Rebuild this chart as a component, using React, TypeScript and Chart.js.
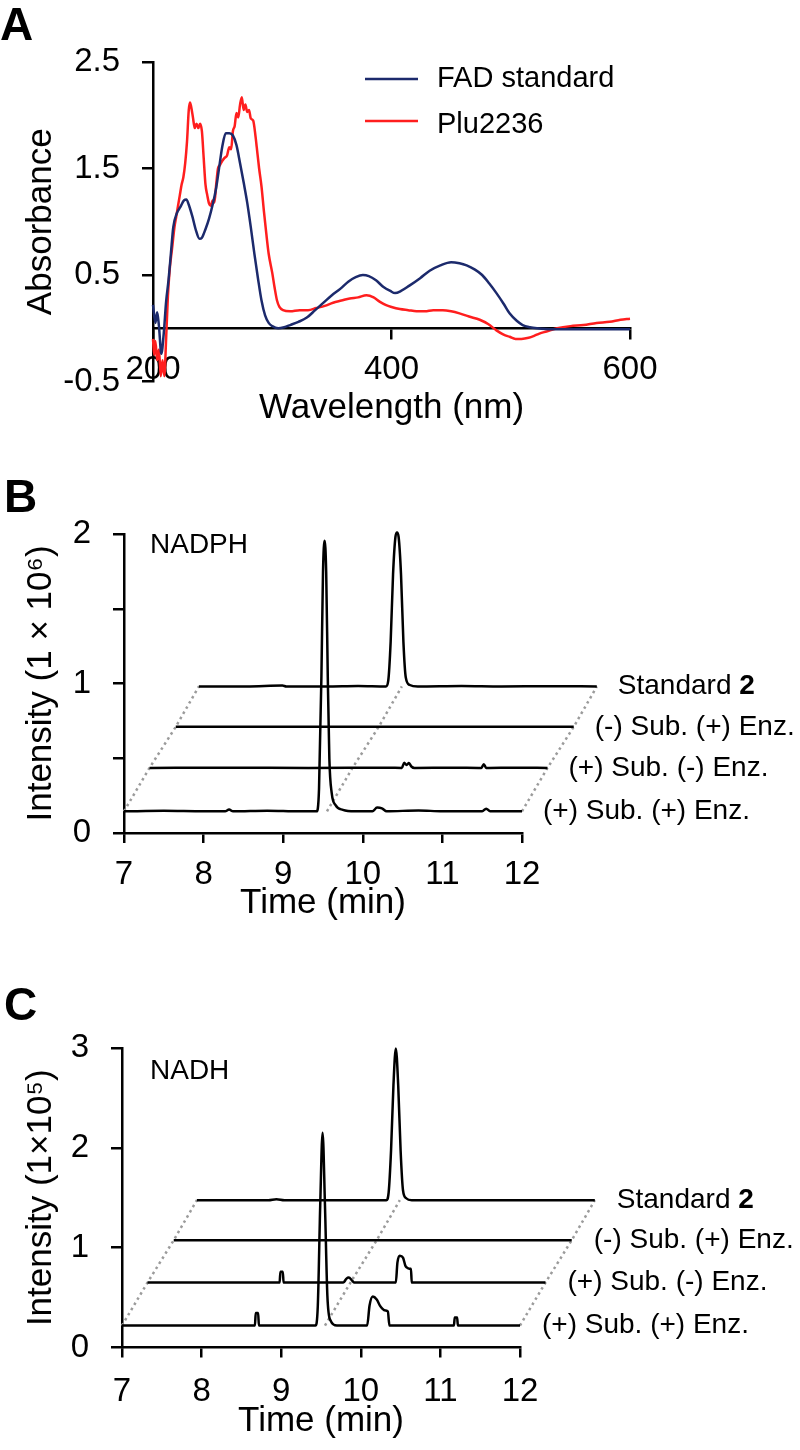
import React, { useEffect, useRef } from 'react';
import { Chart, registerables } from 'chart.js';

Chart.register(...registerables);

const FONT = "'Liberation Sans', Arial, Helvetica, sans-serif";

// ---------------- Panel A : UV-Vis spectra ----------------
const seriesNamesA = ['FAD standard', 'Plu2236'];
const seriesColorsA = ['#1c2a6c', '#ff1e1e'];

const fadWavelength = [200, 202, 203.5, 205, 207, 209, 211, 213, 215, 217, 220, 223, 226, 228, 230, 233, 236, 239, 241, 244, 247, 250, 253, 256, 258, 261, 264, 267, 270, 273, 276, 279, 282, 285, 288, 291, 294, 297, 300, 305, 310, 315, 322, 329, 336, 343, 350, 357, 364, 370, 376, 381, 387, 393, 399, 403, 408, 415, 424, 432, 441, 450, 457, 463, 470, 476, 482, 488, 494, 499, 505, 510, 516, 522, 535, 560, 580, 600];
const fadAbsorbance = [0.22, 0.05, 0.15, 0.02, -0.24, -0.05, 0.25, 0.45, 0.7, 0.95, 1.08, 1.14, 1.2, 1.21, 1.16, 1.05, 0.92, 0.84, 0.85, 0.93, 1.03, 1.16, 1.32, 1.55, 1.7, 1.83, 1.83, 1.81, 1.72, 1.55, 1.37, 1.18, 0.95, 0.7, 0.47, 0.26, 0.12, 0.05, 0.02, 0.0, 0.01, 0.03, 0.06, 0.1, 0.17, 0.24, 0.31, 0.37, 0.44, 0.48, 0.5, 0.49, 0.45, 0.39, 0.35, 0.33, 0.35, 0.4, 0.47, 0.54, 0.59, 0.62, 0.61, 0.59, 0.55, 0.5, 0.42, 0.33, 0.23, 0.14, 0.07, 0.03, 0.01, 0.0, -0.01, -0.01, -0.01, -0.01];

const pluWavelength = [200, 201, 202, 203.5, 205, 206.5, 208, 209.5, 211, 212.5, 214, 216, 218, 219.5, 221, 222.5, 224, 225.5, 227, 228.5, 230, 231, 232, 233.5, 235, 236.5, 238, 239.5, 241, 242.5, 244, 245.5, 247, 248.5, 250, 251.5, 253, 254.5, 256, 258, 260, 262, 264, 265.5, 267, 268.5, 270, 271.5, 273, 274.5, 276, 277.5, 279, 280.5, 282, 284, 286, 287, 289, 291, 293, 295, 297, 300, 302, 304, 306, 309, 315, 323, 330, 337, 344, 351, 358, 365, 372, 379, 385, 390, 395, 400, 407, 414, 421, 428, 435, 443, 450, 457, 465, 474, 481, 488, 494, 499, 504, 509, 515, 520, 524, 530, 539, 550, 561, 572, 583, 592, 600];
const pluAbsorbance = [-0.1, -0.25, -0.12, -0.3, -0.2, -0.45, -0.3, -0.45, -0.1, 0.3, 0.55, 0.75, 0.95, 1.05, 1.15, 1.25, 1.35, 1.42, 1.55, 1.75, 2.05, 2.12, 2.08, 1.98, 1.88, 1.92, 1.88, 1.92, 1.85, 1.6, 1.35, 1.25, 1.17, 1.15, 1.2, 1.18, 1.35, 1.5, 1.53, 1.57, 1.6, 1.62, 1.7, 1.68, 1.85, 1.9, 2.02, 1.98, 2.1, 2.17, 2.05, 2.1, 2.03, 2.05, 1.97, 1.95, 1.8, 1.7, 1.5, 1.33, 1.1, 0.89, 0.7, 0.52, 0.38, 0.26, 0.2, 0.17, 0.16, 0.17, 0.17, 0.19, 0.21, 0.24, 0.26, 0.28, 0.29, 0.31, 0.29, 0.25, 0.22, 0.2, 0.18, 0.17, 0.16, 0.16, 0.17, 0.17, 0.16, 0.14, 0.11, 0.08, 0.04, -0.02, -0.06, -0.08, -0.1, -0.1, -0.09, -0.07, -0.05, -0.03, 0.0, 0.02, 0.03, 0.05, 0.06, 0.08, 0.09];

const absorbanceTicks = [-0.5, 0.5, 1.5, 2.5];
const wavelengthTicks = [200, 400, 600];

// ---------------- Panels B & C : LC-MS traces ----------------
// order of traces from back (top) to front (bottom)
const traceNames = ['Standard ', '(-) Sub. (+) Enz.', '(+) Sub. (-) Enz.', '(+) Sub. (+) Enz.'];
const standardCompound = '2';
const traceTimeShift = [0.94, 0.65, 0.32, 0];
const timeTicks = [7, 8, 9, 10, 11, 12];
const guideTimes = [7, 9.55, 12];

// NADPH (panel B), intensity in 1e6
const nadphBaseline = [0.98, 0.71, 0.435, 0.145];
const nadphTicks = [0, 0.5, 1, 1.5, 2];
const nadphStdTime = [7.0, 7.6, 8.05, 8.1, 8.6, 9.0, 9.35, 9.38, 9.41, 9.44, 9.47, 9.49, 9.51, 9.54, 9.57, 9.6, 9.65, 9.75, 10.3, 10.8, 11.4, 12.0];
const nadphStdInt = [0, 0, 0.006, 0, 0, 0.003, 0, 0.04, 0.3, 0.75, 1.0, 1.03, 1.0, 0.75, 0.3, 0.06, 0.01, 0, 0.003, 0, 0.002, 0];
const nadphNoSubTime = [7.0, 12.0];
const nadphNoSubInt = [0, 0];
const nadphNoEnzTime = [7.0, 8.0, 9.0, 10.0, 10.17, 10.2, 10.23, 10.26, 10.29, 10.33, 10.8, 11.17, 11.2, 11.23, 11.6, 12.0];
const nadphNoEnzInt = [0, 0.002, 0, 0.002, 0, 0.035, 0.02, 0.033, 0.01, 0, 0.002, 0, 0.025, 0, 0.002, 0];
const nadphFullTime = [7.0, 7.5, 8.0, 8.27, 8.32, 8.37, 8.8, 9.2, 9.42, 9.45, 9.48, 9.5, 9.52, 9.54, 9.56, 9.58, 9.61, 9.66, 9.75, 9.9, 10.12, 10.18, 10.24, 10.3, 10.7, 11.0, 11.5, 11.55, 11.6, 12.0];
const nadphFullInt = [0, 0.003, 0, 0, 0.012, 0, 0.004, 0, 0, 0.15, 0.9, 1.6, 1.81, 1.6, 0.9, 0.35, 0.12, 0.04, 0.01, 0, 0, 0.025, 0.02, 0, 0.006, 0, 0, 0.018, 0, 0];

// NADH (panel C), intensity in 1e5
const nadhBaseline = [1.475, 1.075, 0.65, 0.22];
const nadhTicks = [0, 1, 2, 3];
const nadhStdTime = [7.0, 7.9, 8.0, 8.1, 9.38, 9.41, 9.44, 9.47, 9.5, 9.53, 9.56, 9.59, 9.63, 9.7, 12.0];
const nadhStdInt = [0, 0, 0.01, 0, 0, 0.08, 0.5, 1.15, 1.52, 1.15, 0.5, 0.1, 0.02, 0, 0];
const nadhNoSubTime = [7.0, 12.0];
const nadhNoSubInt = [0, 0];
const nadhNoEnzTime = [7.0, 8.66, 8.67, 8.7, 8.71, 9.46, 9.5, 9.53, 9.57, 9.6, 10.12, 10.14, 10.17, 10.21, 10.24, 10.26, 10.29, 10.31, 10.32, 12.0];
const nadhNoEnzInt = [0, 0, 0.11, 0.11, 0, 0, 0.04, 0.05, 0.02, 0, 0, 0.2, 0.27, 0.25, 0.17, 0.15, 0.14, 0.14, 0, 0];
const nadhFullTime = [7.0, 8.67, 8.68, 8.71, 8.72, 9.43, 9.46, 9.49, 9.52, 9.55, 9.58, 9.62, 9.7, 10.08, 10.11, 10.15, 10.2, 10.24, 10.27, 10.31, 10.34, 10.36, 11.17, 11.18, 11.21, 11.22, 12.0];
const nadhFullInt = [0, 0, 0.125, 0.125, 0, 0, 0.2, 1.2, 1.93, 1.2, 0.3, 0.05, 0, 0, 0.2, 0.29, 0.26, 0.2, 0.17, 0.15, 0.14, 0, 0, 0.08, 0.08, 0, 0];

// ---------------- helpers ----------------
const black = '#000';
const TICK_SIZE = 33;
const TITLE_SIZE = 35;

function axisStyle(tickLength: number) {
  return {
    grid: { display: true, drawOnChartArea: false, drawTicks: true, tickLength, color: black, tickColor: black, tickWidth: 2.5, lineWidth: 2.5 },
    border: { display: true, color: black, width: 2.5 },
  };
}

function traceDatasets(times: number[][], ints: number[][], base: number[]) {
  const traces = times.map((t, i) => ({
    data: t.map((x, j) => ({ x: x + traceTimeShift[i], y: ints[i][j] + base[i] })),
    borderColor: black,
    borderWidth: 2.5,
    pointRadius: 0,
    cubicInterpolationMode: 'monotone',
    clip: false,
    order: 0,
  }));
  const guides = guideTimes.map((g) => ({
    data: base.map((b, i) => ({ x: g + traceTimeShift[i], y: b })).reverse(),
    borderColor: '#9b9b9b',
    borderWidth: 2.5,
    borderDash: [2.5, 3.5],
    pointRadius: 0,
    clip: false,
    order: 5,
  }));
  return [...traces, ...guides];
}

function chromAnnotations(id: string, letter: string, letterY: number, compound: string, compoundY: number, base: number[], gap: number) {
  return {
    id,
    afterDraw(chart: any) {
      const { ctx, scales } = chart;
      const xs = scales.x;
      const ys = scales.y;
      ctx.save();
      ctx.fillStyle = black;
      ctx.textAlign = 'left';
      ctx.textBaseline = 'alphabetic';
      ctx.font = `bold 46px ${FONT}`;
      ctx.fillText(letter, 4, letterY);
      ctx.textBaseline = 'middle';
      ctx.font = `28px ${FONT}`;
      ctx.fillText(compound, 150, compoundY);
      traceNames.forEach((name, i) => {
        const px = xs.getPixelForValue(timeTicks[timeTicks.length - 1] + traceTimeShift[i]) + gap;
        const py = ys.getPixelForValue(base[i]);
        ctx.font = `28px ${FONT}`;
        ctx.fillText(name, px, py);
        if (i === 0) {
          const w = ctx.measureText(name).width;
          ctx.font = `bold 28px ${FONT}`;
          ctx.fillText(standardCompound, px + w, py);
        }
      });
      ctx.restore();
    },
  };
}

const legendA = {
  id: 'legendA',
  afterDraw(chart: any) {
    const { ctx } = chart;
    ctx.save();
    ctx.fillStyle = black;
    ctx.font = `bold 46px ${FONT}`;
    ctx.textBaseline = 'alphabetic';
    ctx.textAlign = 'left';
    ctx.fillText('A', 0, 40);
    const lineY = [79, 121];
    const textY = [79, 125];
    seriesNamesA.forEach((name, i) => {
      ctx.strokeStyle = seriesColorsA[i];
      ctx.lineWidth = 2.5;
      ctx.beginPath();
      ctx.moveTo(365, lineY[i]);
      ctx.lineTo(418, lineY[i]);
      ctx.stroke();
      ctx.font = `29px ${FONT}`;
      ctx.textBaseline = 'middle';
      ctx.fillStyle = black;
      ctx.fillText(name, 437, textY[i]);
    });
    ctx.restore();
  },
};

function chromConfig(opts: {
  datasets: any[]; yMax: number; yTicks: number[]; yTitle: string; leftW: number; bottomH: number;
  padTop: number; padRight: number; tickPad: number; titlePad: number; plugin: any;
}) {
  return {
    type: 'line',
    data: { datasets: opts.datasets },
    options: {
      animation: false,
      responsive: false,
      devicePixelRatio: 1,
      layout: { padding: { left: 0, right: opts.padRight, top: opts.padTop, bottom: 0 } },
      plugins: { legend: { display: false }, tooltip: { enabled: false } },
      scales: {
        x: {
          type: 'linear',
          bounds: 'data',
          position: 'bottom',
          afterDataLimits: (s: any) => { s.min = timeTicks[0]; s.max = timeTicks[timeTicks.length - 1]; },
          afterFit: (s: any) => { s.height = opts.bottomH; },
          afterBuildTicks: (s: any) => { s.ticks = timeTicks.map((v) => ({ value: v })); },
          ticks: { font: { size: TICK_SIZE, family: FONT }, color: black, padding: opts.tickPad, maxRotation: 0, autoSkip: false, callback: (v: any) => String(v) },
          ...axisStyle(10),
          title: { display: true, text: 'Time (min)', color: black, font: { size: TITLE_SIZE, family: FONT }, padding: { top: 0, bottom: opts.titlePad } },
        },
        y: {
          type: 'linear',
          min: 0,
          max: opts.yMax,
          position: 'left',
          afterFit: (s: any) => { s.width = opts.leftW; },
          afterBuildTicks: (s: any) => { s.ticks = opts.yTicks.map((v) => ({ value: v })); },
          ticks: { font: { size: TICK_SIZE, family: FONT }, color: black, padding: 22, callback: (v: any) => (Number.isInteger(v) ? String(v) : '') },
          ...axisStyle(11),
          title: { display: true, text: opts.yTitle, color: black, font: { size: TITLE_SIZE, family: FONT }, padding: { top: 20, bottom: 0 } },
        },
      },
    },
    plugins: [opts.plugin],
  };
}

export default function App() {
  const refA = useRef<HTMLCanvasElement>(null);
  const refB = useRef<HTMLCanvasElement>(null);
  const refC = useRef<HTMLCanvasElement>(null);

  useEffect(() => {
    const charts: Chart[] = [];

    const configA: any = {
      type: 'line',
      data: {
        datasets: [
          {
            label: seriesNamesA[0],
            data: fadWavelength.map((w, i) => ({ x: w, y: fadAbsorbance[i] })),
            borderColor: seriesColorsA[0],
            borderWidth: 2.5,
            pointRadius: 0,
            cubicInterpolationMode: 'monotone',
            clip: false,
          },
          {
            label: seriesNamesA[1],
            data: pluWavelength.map((w, i) => ({ x: w, y: pluAbsorbance[i] })),
            borderColor: seriesColorsA[1],
            borderWidth: 2.5,
            pointRadius: 0,
            cubicInterpolationMode: 'monotone',
            clip: false,
          },
        ],
      },
      options: {
        animation: false,
        responsive: false,
        devicePixelRatio: 1,
        layout: { padding: { left: 0, right: 170, top: 62, bottom: 58.5 } },
        plugins: { legend: { display: false }, tooltip: { enabled: false } },
        scales: {
          x: {
            type: 'linear',
            min: 200,
            max: 600,
            position: { y: 0 },
            afterFit: (s: any) => { s.height = 58.5; },
            afterBuildTicks: (s: any) => { s.ticks = wavelengthTicks.map((v) => ({ value: v })); },
            ticks: { font: { size: TICK_SIZE, family: FONT }, color: black, padding: 12, maxRotation: 0, autoSkip: false, callback: (v: any) => String(v) },
            ...axisStyle(10),
            title: { display: true, text: 'Wavelength (nm)', color: black, font: { size: TITLE_SIZE, family: FONT }, padding: { top: 0, bottom: -42.5 } },
          },
          y: {
            type: 'linear',
            min: -0.5,
            max: 2.5,
            position: 'left',
            afterFit: (s: any) => { s.width = 153; },
            afterBuildTicks: (s: any) => { s.ticks = absorbanceTicks.map((v) => ({ value: v })); },
            ticks: { font: { size: TICK_SIZE, family: FONT }, color: black, padding: 22, callback: (v: any) => String(v) },
            ...axisStyle(11),
            title: { display: true, text: 'Absorbance', color: black, font: { size: TITLE_SIZE, family: FONT }, padding: { top: 20, bottom: 0 } },
          },
        },
      },
      plugins: [legendA],
    };

    const configB: any = chromConfig({
      datasets: traceDatasets(
        [nadphStdTime, nadphNoSubTime, nadphNoEnzTime, nadphFullTime],
        [nadphStdInt, nadphNoSubInt, nadphNoEnzInt, nadphFullInt],
        nadphBaseline,
      ),
      yMax: 2,
      yTicks: nadphTicks,
      yTitle: 'Intensity (1 × 10\u2076)',
      leftW: 124,
      bottomH: 97,
      padTop: 94,
      padRight: 278,
      tickPad: 12,
      titlePad: 6,
      plugin: chromAnnotations('annotB', 'B', 72, 'NADPH', 105, nadphBaseline, 21),
    });

    const configC: any = chromConfig({
      datasets: traceDatasets(
        [nadhStdTime, nadhNoSubTime, nadhNoEnzTime, nadhFullTime],
        [nadhStdInt, nadhNoSubInt, nadhNoEnzInt, nadhFullInt],
        nadhBaseline,
      ),
      yMax: 3,
      yTicks: nadhTicks,
      yTitle: 'Intensity (1×10\u2075)',
      leftW: 122,
      bottomH: 102.5,
      padTop: 118,
      padRight: 280,
      tickPad: 15,
      titlePad: 8,
      plugin: chromAnnotations('annotC', 'C', 90, 'NADH', 141, nadhBaseline, 22),
    });

    if (refA.current) charts.push(new Chart(refA.current, configA));
    if (refB.current) charts.push(new Chart(refB.current, configB));
    if (refC.current) charts.push(new Chart(refC.current, configC));

    return () => { charts.forEach((c) => c.destroy()); };
  }, []);

  return (
    <div style={{ position: 'absolute', left: 0, top: 0, width: 800, height: 1450, background: '#fff', overflow: 'hidden' }}>
      <canvas ref={refA} width={800} height={440} style={{ position: 'absolute', left: 0, top: 0, width: 800, height: 440 }} />
      <canvas ref={refB} width={800} height={490} style={{ position: 'absolute', left: 0, top: 440, width: 800, height: 490 }} />
      <canvas ref={refC} width={800} height={520} style={{ position: 'absolute', left: 0, top: 930, width: 800, height: 520 }} />
    </div>
  );
}
